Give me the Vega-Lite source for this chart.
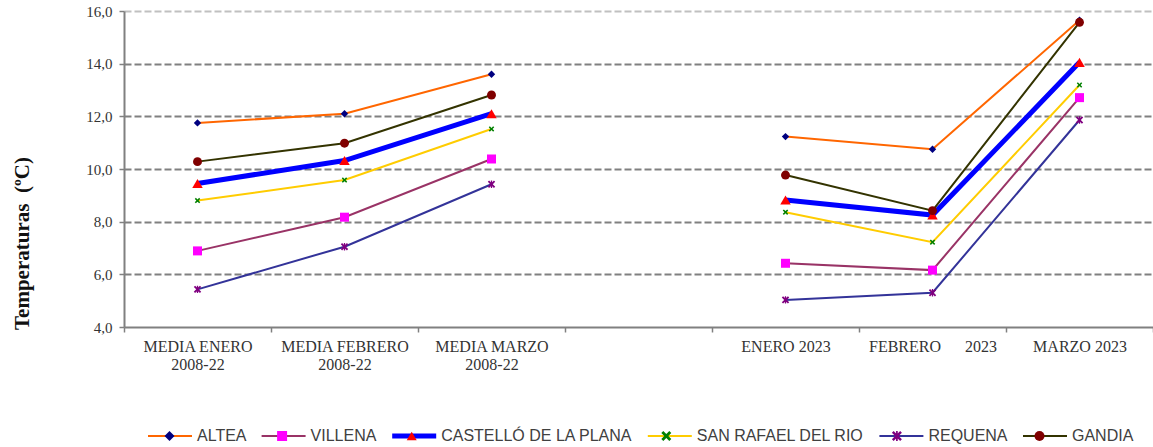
{
  "$schema": "https://vega.github.io/schema/vega-lite/v6.json",
  "width": 1029,
  "height": 316,
  "autosize": {"type": "none"},
  "padding": {"left": 124, "top": 11, "right": 0, "bottom": 120},
  "background": "white",
  "config": {"view": {"stroke": null}},
  "data": {"values": [
    {"mes": "MEDIA ENERO 2008-22", "periodo": "2008-22", "estacion": "ALTEA", "temp": 11.75},
    {"mes": "MEDIA FEBRERO 2008-22", "periodo": "2008-22", "estacion": "ALTEA", "temp": 12.1},
    {"mes": "MEDIA MARZO 2008-22", "periodo": "2008-22", "estacion": "ALTEA", "temp": 13.6},
    {"mes": "ENERO 2023", "periodo": "2023", "estacion": "ALTEA", "temp": 11.23},
    {"mes": "FEBRERO 2023", "periodo": "2023", "estacion": "ALTEA", "temp": 10.75},
    {"mes": "MARZO 2023", "periodo": "2023", "estacion": "ALTEA", "temp": 15.65},
    {"mes": "MEDIA ENERO 2008-22", "periodo": "2008-22", "estacion": "VILLENA", "temp": 6.89},
    {"mes": "MEDIA FEBRERO 2008-22", "periodo": "2008-22", "estacion": "VILLENA", "temp": 8.17},
    {"mes": "MEDIA MARZO 2008-22", "periodo": "2008-22", "estacion": "VILLENA", "temp": 10.38},
    {"mes": "ENERO 2023", "periodo": "2023", "estacion": "VILLENA", "temp": 6.42},
    {"mes": "FEBRERO 2023", "periodo": "2023", "estacion": "VILLENA", "temp": 6.16},
    {"mes": "MARZO 2023", "periodo": "2023", "estacion": "VILLENA", "temp": 12.71},
    {"mes": "MEDIA ENERO 2008-22", "periodo": "2008-22", "estacion": "CASTELLÓ DE LA PLANA", "temp": 9.45},
    {"mes": "MEDIA FEBRERO 2008-22", "periodo": "2008-22", "estacion": "CASTELLÓ DE LA PLANA", "temp": 10.32},
    {"mes": "MEDIA MARZO 2008-22", "periodo": "2008-22", "estacion": "CASTELLÓ DE LA PLANA", "temp": 12.1},
    {"mes": "ENERO 2023", "periodo": "2023", "estacion": "CASTELLÓ DE LA PLANA", "temp": 8.82},
    {"mes": "FEBRERO 2023", "periodo": "2023", "estacion": "CASTELLÓ DE LA PLANA", "temp": 8.25},
    {"mes": "MARZO 2023", "periodo": "2023", "estacion": "CASTELLÓ DE LA PLANA", "temp": 14.05},
    {"mes": "MEDIA ENERO 2008-22", "periodo": "2008-22", "estacion": "SAN RAFAEL DEL RIO", "temp": 8.8},
    {"mes": "MEDIA FEBRERO 2008-22", "periodo": "2008-22", "estacion": "SAN RAFAEL DEL RIO", "temp": 9.58},
    {"mes": "MEDIA MARZO 2008-22", "periodo": "2008-22", "estacion": "SAN RAFAEL DEL RIO", "temp": 11.52},
    {"mes": "ENERO 2023", "periodo": "2023", "estacion": "SAN RAFAEL DEL RIO", "temp": 8.36},
    {"mes": "FEBRERO 2023", "periodo": "2023", "estacion": "SAN RAFAEL DEL RIO", "temp": 7.22},
    {"mes": "MARZO 2023", "periodo": "2023", "estacion": "SAN RAFAEL DEL RIO", "temp": 13.19},
    {"mes": "MEDIA ENERO 2008-22", "periodo": "2008-22", "estacion": "REQUENA", "temp": 5.43},
    {"mes": "MEDIA FEBRERO 2008-22", "periodo": "2008-22", "estacion": "REQUENA", "temp": 7.05},
    {"mes": "MEDIA MARZO 2008-22", "periodo": "2008-22", "estacion": "REQUENA", "temp": 9.42},
    {"mes": "ENERO 2023", "periodo": "2023", "estacion": "REQUENA", "temp": 5.03},
    {"mes": "FEBRERO 2023", "periodo": "2023", "estacion": "REQUENA", "temp": 5.3},
    {"mes": "MARZO 2023", "periodo": "2023", "estacion": "REQUENA", "temp": 11.86},
    {"mes": "MEDIA ENERO 2008-22", "periodo": "2008-22", "estacion": "GANDIA", "temp": 10.28},
    {"mes": "MEDIA FEBRERO 2008-22", "periodo": "2008-22", "estacion": "GANDIA", "temp": 10.98},
    {"mes": "MEDIA MARZO 2008-22", "periodo": "2008-22", "estacion": "GANDIA", "temp": 12.81},
    {"mes": "ENERO 2023", "periodo": "2023", "estacion": "GANDIA", "temp": 9.77},
    {"mes": "FEBRERO 2023", "periodo": "2023", "estacion": "GANDIA", "temp": 8.42},
    {"mes": "MARZO 2023", "periodo": "2023", "estacion": "GANDIA", "temp": 15.57}
  ]},
  "encoding": {
    "x": {
      "field": "mes", "type": "nominal",
      "scale": {"type": "band", "domain": ["MEDIA ENERO 2008-22", "MEDIA FEBRERO 2008-22", "MEDIA MARZO 2008-22", " ", "ENERO 2023", "FEBRERO 2023", "MARZO 2023"], "paddingInner": 0, "paddingOuter": 0},
      "axis": {
        "title": null, "labelAngle": 0, "tickBand": "extent",
        "labelFont": "Liberation Serif", "labelFontSize": 16, "labelColor": "#333333",
        "labelPadding": 6, "labelLineHeight": 18, "labelBaseline": "top", "labelOverlap": false, "labelLimit": 0,
        "labelExpr": "datum.label === 'FEBRERO 2023' ? 'FEBRERO\u00a0\u00a0\u00a0\u00a0\u00a0\u00a02023' : indexof(datum.label, 'MEDIA') === 0 ? [slice(datum.label, 0, lastindexof(datum.label, ' ')), slice(datum.label, lastindexof(datum.label, ' ') + 1)] : datum.label",
        "domainColor": "#808080", "domainWidth": 2,
        "tickColor": "#808080", "tickSize": 5, "tickWidth": 1.5,
        "grid": false,
        "encode": {"labels": {"update": {"dx": {"signal": "datum.value === 'ENERO 2023' ? -10 : datum.value === 'FEBRERO 2023' ? -18 : datum.value === 'MARZO 2023' ? -25 : 0"}}}}
      }
    },
    "y": {
      "field": "temp", "type": "quantitative",
      "scale": {"domain": [4, 16], "nice": false, "zero": false},
      "axis": {
        "title": "Temperaturas\u00a0 (ºC)", "titleFont": "Liberation Serif", "titleFontSize": 21, "titleFontWeight": "bold", "titleColor": "#111111",
        "titleX": -92, "titleY": 232,
        "values": [4, 6, 8, 10, 12, 14, 16],
        "labelExpr": "replace(format(datum.value, '.1f'), '.', ',')",
        "labelFont": "Liberation Serif", "labelFontSize": 15, "labelColor": "#333333", "labelPadding": 7,
        "tickSize": 5, "tickColor": "#808080", "tickWidth": 1.5,
        "domainColor": "#808080", "domainWidth": 2,
        "grid": true,
        "gridColor": {"condition": {"test": "datum.value === 16", "value": "#c0c0c0"}, "value": "#808080"},
        "gridOpacity": {"condition": {"test": "datum.value === 4", "value": 0}, "value": 1},
        "gridDash": [7, 3], "gridWidth": 2
      }
    }
  },
  "layer": [
    {
      "mark": {"type": "line"},
      "encoding": {
        "detail": {"field": "periodo"},
        "stroke": {
          "field": "estacion", "type": "nominal",
          "scale": {"domain": ["ALTEA", "VILLENA", "CASTELLÓ DE LA PLANA", "SAN RAFAEL DEL RIO", "REQUENA", "GANDIA"], "range": ["#FF6600", "#993366", "#0000FF", "#FFCC00", "#333399", "#333300"]},
          "legend": {"title": null, "orient": "none", "legendX": 21.5, "legendY": 415, "direction": "horizontal", "columns": 6, "columnPadding": 12.6, "labelOffset": 2.5, "clipHeight": 20, "padding": 0, "labelFont": "Liberation Sans", "labelFontSize": 16, "labelColor": "#404040", "labelLimit": 400, "symbolType": "stroke", "symbolSize": 1936}
        },
        "strokeWidth": {
          "field": "estacion", "type": "nominal",
          "scale": {"type": "ordinal", "domain": ["ALTEA", "VILLENA", "CASTELLÓ DE LA PLANA", "SAN RAFAEL DEL RIO", "REQUENA", "GANDIA"], "range": [2, 2, 5, 2, 2, 2]}
        }
      }
    },
    {
      "mark": {"type": "point", "filled": true, "opacity": 1},
      "encoding": {
        "fill": {
          "field": "estacion", "type": "nominal", "sort": null,
          "scale": {"range": ["#000080", "#FF00FF", "#FF0000", "#008000", "#800080", "#800000"]},
          "legend": {"title": null, "orient": "none", "legendX": 21.5, "legendY": 415, "direction": "horizontal", "columns": 6, "columnPadding": 12.6, "labelOffset": 2.5, "clipHeight": 20, "padding": 0, "labelFont": "Liberation Sans", "labelFontSize": 16, "labelColor": "transparent", "labelLimit": 400, "symbolStrokeColor": "transparent", "symbolStrokeWidth": 38,
            "encode": {"symbols": {"update": {"stroke": {"value": "transparent"}, "size": {"signal": "datum.value === 'CASTELLÓ DE LA PLANA' ? 110 : datum.value === 'VILLENA' ? 81 : datum.value === 'GANDIA' ? 80 : datum.value === 'SAN RAFAEL DEL RIO' ? 30 : datum.value === 'REQUENA' ? 55 : 50"}}}}}
        },
        "shape": {
          "field": "estacion", "type": "nominal", "sort": null,
          "scale": {"range": ["diamond", "square", "triangle-up", "M-1,-0.6L-0.6,-1L0,-0.4L0.6,-1L1,-0.6L0.4,0L1,0.6L0.6,1L0,0.4L-0.6,1L-1,0.6L-0.4,0Z", "M-1,-0.65L-0.65,-1L0,-0.35L0.65,-1L1,-0.65L0.35,0L1,0.65L0.65,1L0,0.35L-0.65,1L-1,0.65L-0.35,0ZM-0.17,-1L0.17,-1L0.17,1L-0.17,1Z", "circle"]},
          "legend": {"title": null, "orient": "none", "legendX": 21.5, "legendY": 415, "direction": "horizontal", "columns": 6, "columnPadding": 12.6, "labelOffset": 2.5, "clipHeight": 20, "padding": 0, "labelFont": "Liberation Sans", "labelFontSize": 16, "labelColor": "transparent", "labelLimit": 400, "symbolStrokeColor": "transparent", "symbolStrokeWidth": 38}
        },
        "size": {
          "condition": [
            {"test": "datum.estacion === 'CASTELLÓ DE LA PLANA'", "value": 110},
            {"test": "datum.estacion === 'VILLENA'", "value": 81},
            {"test": "datum.estacion === 'GANDIA'", "value": 80},
            {"test": "datum.estacion === 'SAN RAFAEL DEL RIO'", "value": 30},
            {"test": "datum.estacion === 'REQUENA'", "value": 55}
          ],
          "value": 55
        }
      }
    }
  ]
}
